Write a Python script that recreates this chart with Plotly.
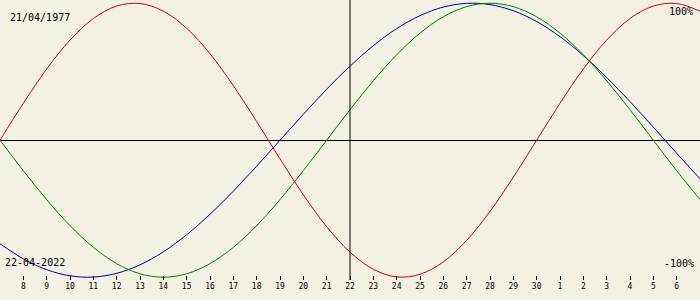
import plotly.graph_objects as go

# Days relative to the reference date 22/04/2022 (April 7 .. May 7)
day_offsets = list(range(-15, 16))
tick_values = list(range(-14, 15))
tick_labels = ["8", "9", "10", "11", "12", "13", "14", "15", "16", "17", "18",
               "19", "20", "21", "22", "23", "24", "25", "26", "27", "28", "29",
               "30", "1", "2", "3", "4", "5", "6"]

physical = [0.0, 0.2698, 0.5196, 0.7308, 0.8879, 0.9791, 0.9977, 0.9423, 0.8170,
            0.6311, 0.3984, 0.1362, -0.1362, -0.3984, -0.6311, -0.8170, -0.9423,
            -0.9977, -0.9791, -0.8879, -0.7308, -0.5196, -0.2698, 0.0, 0.2698,
            0.5196, 0.7308, 0.8879, 0.9791, 0.9977, 0.9423]

emotional = [0.0, -0.2225, -0.4339, -0.6235, -0.7818, -0.9010, -0.9749, -1.0,
             -0.9749, -0.9010, -0.7818, -0.6235, -0.4339, -0.2225, 0.0, 0.2225,
             0.4339, 0.6235, 0.7818, 0.9010, 0.9749, 1.0, 0.9749, 0.9010, 0.7818,
             0.6235, 0.4339, 0.2225, 0.0, -0.2225, -0.4339]

intellectual = [-0.7557, -0.8660, -0.9450, -0.9898, -0.9989, -0.9718, -0.9096,
                -0.8146, -0.6901, -0.5406, -0.3717, -0.1893, 0.0, 0.1893, 0.3717,
                0.5406, 0.6901, 0.8146, 0.9096, 0.9718, 0.9989, 0.9898, 0.9450,
                0.8660, 0.7557, 0.6182, 0.4582, 0.2817, 0.0951, -0.0951, -0.2817]

birth_text = "21/04/1977"
date_text = "22-04-2022"

BG = "#f3f0e4"
FONT = "DejaVu Sans Mono"

fig = go.Figure()
for vals, col in [(intellectual, "#000090"), (emotional, "#008000"), (physical, "#d40000")]:
    fig.add_trace(go.Scatter(x=day_offsets, y=vals, mode="lines",
                             line=dict(color=col, width=1, shape="spline", smoothing=1.0),
                             hoverinfo="skip", showlegend=False))

fig.add_shape(type="line", xref="x", yref="paper", x0=0, x1=0, y0=0, y1=1,
              line=dict(color="black", width=1))

H_PLOT = 280.0
def py(p):
    return 1 - p / H_PLOT

annots = [
    dict(text=birth_text, x=8 / 700, y=py(17), xanchor="left", font_size=10),
    dict(text=date_text, x=3 / 700, y=py(262), xanchor="left", font_size=10),
    dict(text="100%", x=695 / 700, y=py(12), xanchor="right", font_size=10),
    dict(text="-100%", x=696 / 700, y=py(263), xanchor="right", font_size=10),
]
for a in annots:
    fig.add_annotation(text=a["text"], x=a["x"], y=a["y"], xref="paper", yref="paper",
                       xanchor=a["xanchor"], yanchor="middle", showarrow=False,
                       font=dict(family=FONT, size=a["font_size"], color="black"))

fig.update_layout(
    width=700, height=300,
    margin=dict(l=0, r=0, t=0, b=20, pad=0),
    paper_bgcolor=BG, plot_bgcolor=BG,
    xaxis=dict(range=[-15, 15], tickvals=tick_values, ticktext=tick_labels,
               ticks="inside", ticklen=4, tickwidth=1, tickcolor="black",
               showgrid=False, zeroline=False, showline=False,
               tickfont=dict(family=FONT, size=8, color="black"), fixedrange=True),
    yaxis=dict(range=[-1.0204, 1.0234], showgrid=False, showticklabels=False,
               zeroline=True, zerolinecolor="black", zerolinewidth=1,
               showline=False, ticks="", fixedrange=True),
)

fig.write_html("out.html")
